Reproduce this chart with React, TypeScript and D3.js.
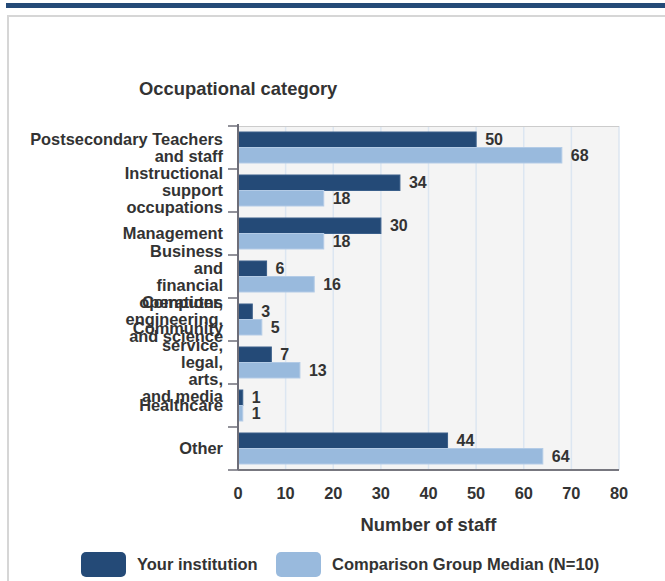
import React from "react";
import * as d3 from "d3";

const categories = [
  "Postsecondary Teachers and staff",
  "Instructional support occupations",
  "Management",
  "Business and financial operations",
  "Computer, engineering, and science",
  "Community service, legal, arts, and media",
  "Healthcare",
  "Other",
];
const categoryLines = [
  ["Postsecondary Teachers", "and staff"],
  ["Instructional", "support", "occupations"],
  ["Management"],
  ["Business", "and", "financial", "operations"],
  ["Computer,", "engineering,", "and science"],
  ["Community", "service,", "legal,", "arts,", "and media"],
  ["Healthcare"],
  ["Other"],
];
const yourInstitution = [50, 34, 30, 6, 3, 7, 1, 44];
const comparisonMedian = [68, 18, 18, 16, 5, 13, 1, 64];
const seriesNames = ["Your institution", "Comparison Group Median (N=10)"];
const seriesColors = ["#244a77", "#99badd"];
const seriesStroke = ["#3a5f8a", "#b3cbe6"];
const xTicks = [0, 10, 20, 30, 40, 50, 60, 70, 80];

const FONT = "'Liberation Sans', Arial, Helvetica, sans-serif";
const TEXT = "#333";

export default function App() {
  const W = 665, H = 581;
  const left = 238, right = 619, top = 126, bottom = 470;
  const x = d3.scaleLinear().domain([0, 80]).range([left, right]);
  const y = d3.scaleBand<string>().domain(categories).range([top, bottom]).padding(0);
  const inner = d3.scaleBand<number>().domain([0, 1]).range([6, y.bandwidth() - 6]).padding(0);
  const series = [yourInstitution, comparisonMedian];
  const lineH = 17;

  return (
    <svg width={W} height={H} style={{ position: "absolute", left: 0, top: 0, fontFamily: FONT }}>
      <rect x={0} y={0} width={W} height={H} fill="#fff" />
      <rect x={6} y={3} width={W - 6} height={5} fill="#244a77" />
      <rect x={7} y={15} width={W - 7} height={2} fill="#d6d6d6" />
      <rect x={7} y={15} width={2} height={H - 15} fill="#d6d6d6" />

      <text x={139} y={89} dy="0.35em" fontSize={18.4} fontWeight="bold" fill={TEXT}>
        Occupational category
      </text>

      {/* plot background */}
      <rect x={left} y={top} width={right - left} height={bottom - top} fill="#f4f4f4" />
      {xTicks.slice(1).map((t) => (
        <line key={"g" + t} x1={x(t)} x2={x(t)} y1={top} y2={bottom} stroke="#dce6f1" strokeWidth={1.5} />
      ))}
      <line x1={left} x2={right} y1={top + 0.5} y2={top + 0.5} stroke="#cccccc" strokeWidth={1} />

      {/* bars */}
      {categories.map((c, i) =>
        series.map((s, si) => {
          const by = (y(c) as number) + (inner(si) as number);
          const bh = inner.bandwidth();
          return (
            <g key={c + si}>
              <rect
                x={x(0)}
                y={by}
                width={x(s[i]) - x(0)}
                height={bh}
                fill={seriesColors[si]}
                stroke={seriesStroke[si]}
                strokeWidth={1}
              />
              <text
                x={x(s[i]) + 9}
                y={by + bh / 2}
                dy="0.35em"
                fontSize={16}
                fontWeight="bold"
                fill={TEXT}
              >
                {s[i]}
              </text>
            </g>
          );
        })
      )}

      {/* left axis */}
      <line x1={left} x2={left} y1={top - 2} y2={bottom} stroke="#6e6e78" strokeWidth={2} />
      {[...categories.map((c) => y(c) as number), bottom].map((ty, i) => (
        <line key={"t" + i} x1={left - 10} x2={left} y1={ty} y2={ty} stroke="#6e6e78" strokeWidth={1.5} />
      ))}
      {categories.map((c, i) => {
        const lines = categoryLines[i];
        const cy = (y(c) as number) + y.bandwidth() / 2;
        const start = cy - ((lines.length - 1) * lineH) / 2;
        return (
          <text key={"l" + c} x={223} textAnchor="end" fontSize={16.4} fontWeight="bold" fill={TEXT}>
            {lines.map((ln, k) => (
              <tspan key={k} x={223} y={start + k * lineH} dy="0.35em">
                {ln}
              </tspan>
            ))}
          </text>
        );
      })}

      {/* bottom axis */}
      <line x1={left} x2={right} y1={bottom} y2={bottom} stroke="#77777f" strokeWidth={2} />
      {xTicks.map((t) => (
        <text key={"x" + t} x={x(t)} y={493} dy="0.35em" textAnchor="middle" fontSize={16.4} fontWeight="bold" fill={TEXT}>
          {t}
        </text>
      ))}
      <text x={(left + right) / 2} y={525} dy="0.35em" textAnchor="middle" fontSize={18.4} fontWeight="bold" fill={TEXT}>
        Number of staff
      </text>

      {/* legend */}
      <rect x={81} y={552} width={45} height={25} rx={5} fill={seriesColors[0]} />
      <text x={137} y={564.5} dy="0.35em" fontSize={16.5} fontWeight="bold" fill={TEXT}>
        {seriesNames[0]}
      </text>
      <rect x={276} y={552} width={45} height={25} rx={5} fill={seriesColors[1]} />
      <text x={332} y={564.5} dy="0.35em" fontSize={16.5} fontWeight="bold" fill={TEXT}>
        {seriesNames[1]}
      </text>
    </svg>
  );
}
